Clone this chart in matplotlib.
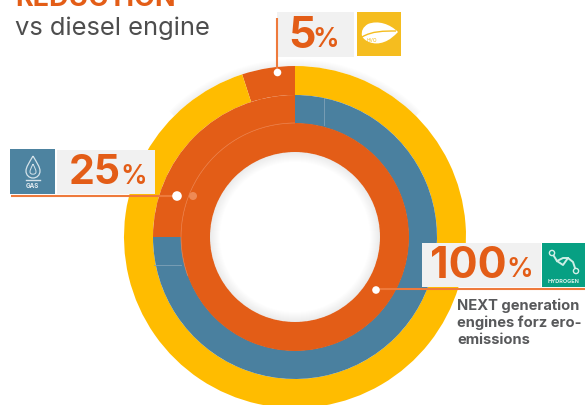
import matplotlib
matplotlib.use("Agg")
import matplotlib.pyplot as plt
from matplotlib.patches import Rectangle, Circle, Wedge, Arc, PathPatch
from matplotlib.path import Path

plt.rcParams['font.family'] = ['Inter', 'DejaVu Sans']

# ring shares, going counter-clockwise from 12 o'clock
outer_values = [5, 95]
middle_values = [25, 75]
inner_values = [100]

outer_colors = ["#e35d17", "#ffbc00"]
middle_colors = ["#e35d17", "#4a809f"]
inner_colors = ["#e35d17"]

title = "REDUCTION"
subtitle = "vs diesel engine"
labels = ["5", "25", "100"]
note = ["NEXT generation", "engines forz ero-", "emissions"]

ORANGE = "#e35d17"
LINE = "#ee7a3c"
PANEL = "#f1f1f1"
H = 405


def y_up(y):
    return H - y


def curve(points, **kw):
    # points: start, then triples of cubic bezier control points
    verts = [(x, y_up(y)) for x, y in points]
    codes = [Path.MOVETO] + [Path.CURVE4] * (len(verts) - 1)
    return PathPatch(Path(verts, codes), **kw)


fig = plt.figure(figsize=(5.85, 4.05), dpi=100)
ax = fig.add_axes([0, 0, 1, 1])

cx, cy = 295, y_up(237)

# faint shadow along the top of the outer ring
for i in range(7):
    ax.add_patch(Wedge((cx, cy), 171 + 7 - i, 45, 135, width=7 - i, color="#000000", alpha=0.008, lw=0))

ax.pie(outer_values, colors=outer_colors, radius=171, center=(cx, cy), startangle=90,
       wedgeprops=dict(width=29, lw=0), frame=False)
ax.pie(middle_values, colors=middle_colors, radius=142, center=(cx, cy), startangle=90,
       wedgeprops=dict(width=28.5, lw=0), frame=False)
ax.pie(inner_values, colors=inner_colors, radius=114, center=(cx, cy), startangle=90,
       wedgeprops=dict(width=29, lw=0), frame=False)

# pale seams inside the rings
ax.add_patch(Arc((cx, cy), 228, 228, theta1=90, theta2=200, color="#ec8450", lw=0.5))
ax.plot([324, 324], [y_up(98), y_up(125)], color="#7fa2b7", lw=0.6)
ax.plot([154, 181], [y_up(265), y_up(265)], color="#7fa2b7", lw=0.6)

# soft shading just inside the hole
for i in range(10):
    ax.add_patch(Wedge((cx, cy), 85, 0, 360, width=10 - i, color="#000000", alpha=0.007, lw=0))

ax.set_xlim(0, 585)
ax.set_ylim(0, H)
ax.set_aspect("auto")
ax.axis("off")

# header
ax.text(15, y_up(-1), title, color=ORANGE, fontsize=19.5, fontweight="bold", va="center", ha="left")
ax.text(15, y_up(28), subtitle, color="#4d4d4d", fontsize=18.4, va="center", ha="left")

# 5% callout
ax.add_patch(Rectangle((277, y_up(57)), 77, 45, color=PANEL, lw=0))
ax.add_patch(Rectangle((357, y_up(56)), 44, 44, color="#f5bd1f", lw=0))
ax.plot([277, 277], [y_up(18), y_up(72)], color=LINE, lw=1.5, solid_capstyle="butt")
ax.add_patch(Circle((277.5, y_up(72.5)), 3.8, color="white", lw=0, zorder=5))
ax.add_patch(curve([(398, 32), (390, 24), (378, 20), (368, 24),
                    (363, 27), (361, 31), (362, 36),
                    (364, 41), (374, 46), (384, 42),
                    (390, 40), (394, 36), (398, 32)], color="white", lw=0))
ax.add_patch(curve([(362, 37), (372, 31), (384, 31), (396, 31)], fc="none", ec="#f5bd1f", lw=1))
ax.text(372, y_up(40), "HVO", color="#f5bd1f", fontsize=3.5, va="center", ha="center")
ax.text(288, y_up(37), labels[0], color=ORANGE, fontsize=31, fontweight="bold", va="center", ha="left")
ax.text(312, y_up(40), "%", color=ORANGE, fontsize=19, fontweight="semibold", va="center", ha="left")

# 25% callout
ax.add_patch(Rectangle((57, y_up(194)), 98, 44, color=PANEL, lw=0))
ax.add_patch(Rectangle((10, y_up(194)), 45, 45, color="#4d83a0", lw=0))
ax.plot([11, 178], [y_up(196), y_up(196)], color=LINE, lw=1.5, solid_capstyle="butt")
ax.add_patch(Circle((193, y_up(196)), 4, color="#ee8a55", lw=0, zorder=5))
ax.add_patch(Circle((177, y_up(196)), 4.8, color="white", lw=0, zorder=6))
ax.add_patch(curve([(33, 156), (29, 163), (26, 167), (26, 171),
                    (26, 175), (29, 178), (33, 178),
                    (37, 178), (40, 175), (40, 171),
                    (40, 167), (37, 163), (33, 156)], fc="none", ec="#d5e3ea", lw=0.9))
ax.add_patch(curve([(33, 164), (31, 168), (30, 170), (30, 172),
                    (30, 175), (36, 175), (36, 172),
                    (36, 170), (35, 168), (33, 164)], fc="none", ec="#d5e3ea", lw=0.7))
ax.plot([26, 40], [y_up(180), y_up(180)], color="#d5e3ea", lw=1)
ax.text(32.5, y_up(186.5), "GAS", color="#e4edf2", fontsize=4.5, fontweight="bold", va="center", ha="center")
ax.text(69, y_up(173), labels[1], color=ORANGE, fontsize=29.5, fontweight="bold", va="center", ha="left")
ax.text(120, y_up(177), "%", color=ORANGE, fontsize=19, fontweight="semibold", va="center", ha="left")

# 100% callout
ax.add_patch(Rectangle((422, y_up(287)), 119, 44, color=PANEL, lw=0))
ax.add_patch(Rectangle((542, y_up(287)), 43, 44, color="#07a083", lw=0))
ax.plot([376, 585], [y_up(289), y_up(289)], color=LINE, lw=1.5, solid_capstyle="butt")
ax.add_patch(Circle((376, y_up(290)), 3.8, color="white", lw=0, zorder=6))
mol_x = [552, 557, 563, 568, 573, 576]
mol_y = [253, 261, 265, 258, 262, 271]
ax.plot(mol_x, [y_up(v) for v in mol_y], color="#cdeee5", lw=1.4)
ax.plot([557, 563, 568], [y_up(261), y_up(258), y_up(258)], color="#cdeee5", lw=1.4)
for x, y in zip([552, 576], [253, 271]):
    ax.add_patch(Circle((x, y_up(y)), 2.6, fc="#07a083", ec="#d5f0e9", lw=1, zorder=5))
ax.text(563.5, y_up(281.5), "HYDROGEN", color="#d5f0e9", fontsize=4, fontweight="bold", va="center", ha="center")
ax.text(430, y_up(266), labels[2], color=ORANGE, fontsize=31, fontweight="bold", va="center", ha="left")
ax.text(506, y_up(270), "%", color=ORANGE, fontsize=19, fontweight="semibold", va="center", ha="left")

for i, line in enumerate(note):
    ax.text(457, y_up(306 + 17 * i), line, color="#58595b", fontsize=10.6, fontweight="bold", va="center", ha="left")

fig.savefig("out.png", dpi=100)
